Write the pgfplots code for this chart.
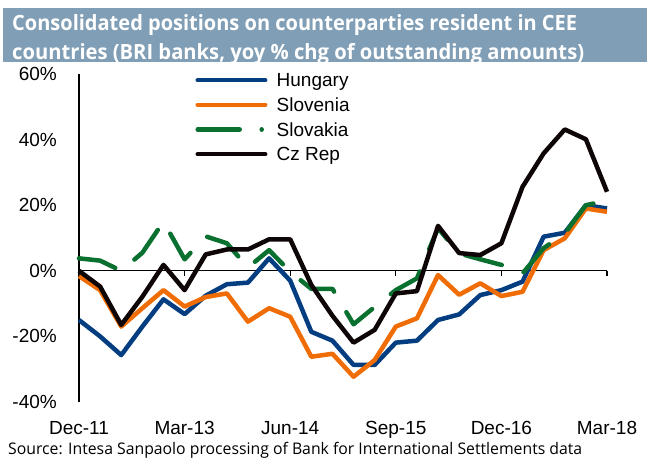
\documentclass[border=0pt]{standalone}
\usepackage{pgfplots}
\usepackage{pgfplotstable}
\usepackage{graphicx}
\pgfplotsset{compat=1.18}
\usepackage{fontspec}
\setmainfont{Liberation Sans}
\newfontfamily\titlefont{Open Sans}
\definecolor{hung}{RGB}{4,62,128}
\definecolor{slon}{RGB}{240,108,4}
\definecolor{slok}{RGB}{10,112,48}
\definecolor{czr}{RGB}{14,6,6}
\definecolor{barcol}{RGB}{128,158,181}

\pgfplotsset{
  lineleg/.style={legend image code/.code={\draw[##1, line cap=round] (2.25bp,0bp) -- (69.75bp,0bp);}},
  dashleg/.style={legend image code/.code={\draw[##1, line cap=round, dash pattern=on 42bp off 22bp on 0.01bp off 30bp] (2.25bp,0bp) -- (69.75bp,0bp);}},
}

\pgfplotstableread{
i H S K C
0 -15 -1.6 3.8 0
1 -20 -5.9 3.1 -4.8
2 -25.7 -17 0 -16.5
3 -17 -11.4 5.5 -7.9
4 -8.7 -5.9 15 1.8
5 -13.2 -10.9 3.5 -5.9
6 -7.6 -8.0 10.5 5.0
7 -4.1 -6.9 8.4 6.5
8 -3.6 -15.5 1.0 6.5
9 3.8 -11.4 6.3 9.6
10 -3.0 -14 -0.3 9.6
11 -18.6 -26.2 -5.5 -4.3
12 -21.3 -25.3 -5.5 -13.7
13 -28.7 -32.3 -16.3 -21.9
14 -28.7 -27.2 -11 -18
15 -21.9 -17 -5.9 -6.9
16 -21.3 -14.5 -2.3 -6.2
17 -15 -1.3 13 13.7
18 -13.3 -7.3 5.3 5.4
19 -7.4 -3.8 3.5 4.8
20 -5.9 -7.7 1.8 8.4
21 -3.3 -6.4 -0.8 25.6
22 10.4 6.3 6.9 35.8
23 11.6 9.9 11.4 43.1
24 20 19 20 40.1
25 19 18 21.4 24.1
}\data

\begin{document}
\begin{tikzpicture}
\useasboundingbox (0,0) rectangle (647bp,459bp);
% title bar
\fill[barcol] (3bp,397bp) rectangle (647bp,451bp);
\node[anchor=base west, inner sep=0pt, text=white] at (12bp,428bp)
  {\resizebox{565bp}{\height}{\titlefont\bfseries\fontsize{21bp}{25bp}\selectfont Consolidated positions on counterparties resident in CEE}};
\node[anchor=base west, inner sep=0pt, text=white] at (12bp,399bp)
  {\resizebox{572bp}{\height}{\titlefont\bfseries\fontsize{21bp}{25bp}\selectfont countries (BRI banks, yoy \% chg of outstanding amounts)}};
% source
\node[anchor=base west, inner sep=0pt] at (8bp,4.5bp)
  {\resizebox{574bp}{\height}{\titlefont\fontsize{16bp}{19bp}\selectfont Source: Intesa Sanpaolo processing of Bank for International Settlements data}};

\begin{axis}[
  at={(79bp,57bp)}, anchor=south west,
  scale only axis, width=528bp, height=328bp,
  xmin=0, xmax=25, ymin=-40, ymax=60,
  axis x line*=middle, axis y line*=left,
  hide obscured x ticks=false,
  axis line style={line width=1.2bp, black},
  xtick={0,5,10,15,20,25},
  xticklabels={Dec-11,Mar-13,Jun-14,Sep-15,Dec-16,Mar-18},
  ytick={-40,-20,0,20,40,60},
  yticklabels={-40\%,-20\%,0\%,20\%,40\%,60\%},
  ytick style={draw=none},
  xtick style={line width=1.2bp, black},
  x tick label style={font=\fontsize{19bp}{22bp}\selectfont, inner sep=0pt, anchor=north, yshift=-145bp},
  y tick label style={font=\fontsize{19bp}{22bp}\selectfont, inner sep=0pt, anchor=east, xshift=-17bp},
  tick align=outside,
  major tick length=5bp,
  clip=false,
  legend style={at={(axis description cs:0.2202,1.004)}, anchor=north west,
    draw=none, fill=none, inner sep=0pt, column sep=9.25bp, row sep=10.07bp,
    font=\fontsize{19bp}{22bp}\selectfont,
    nodes={inner sep=0pt, text height=14bp, text depth=0.6bp}},
  legend cell align=left,
]
\addplot[hung, line width=4.5bp, line join=round, lineleg] table[x=i,y=H]{\data};
\addlegendentry{Hungary}
\addplot[slon, line width=4.5bp, line join=round, lineleg] table[x=i,y=S]{\data};
\addlegendentry{Slovenia}
\addplot[slok, line width=4.5bp, line join=round, line cap=round, dash pattern=on 38bp off 24bp, dashleg] table[x=i,y=K]{\data};
\addlegendentry{Slovakia}
\addplot[czr, line width=4.5bp, line join=round, lineleg] table[x=i,y=C]{\data};
\addlegendentry{Cz Rep}
\end{axis}
\end{tikzpicture}
\end{document}
